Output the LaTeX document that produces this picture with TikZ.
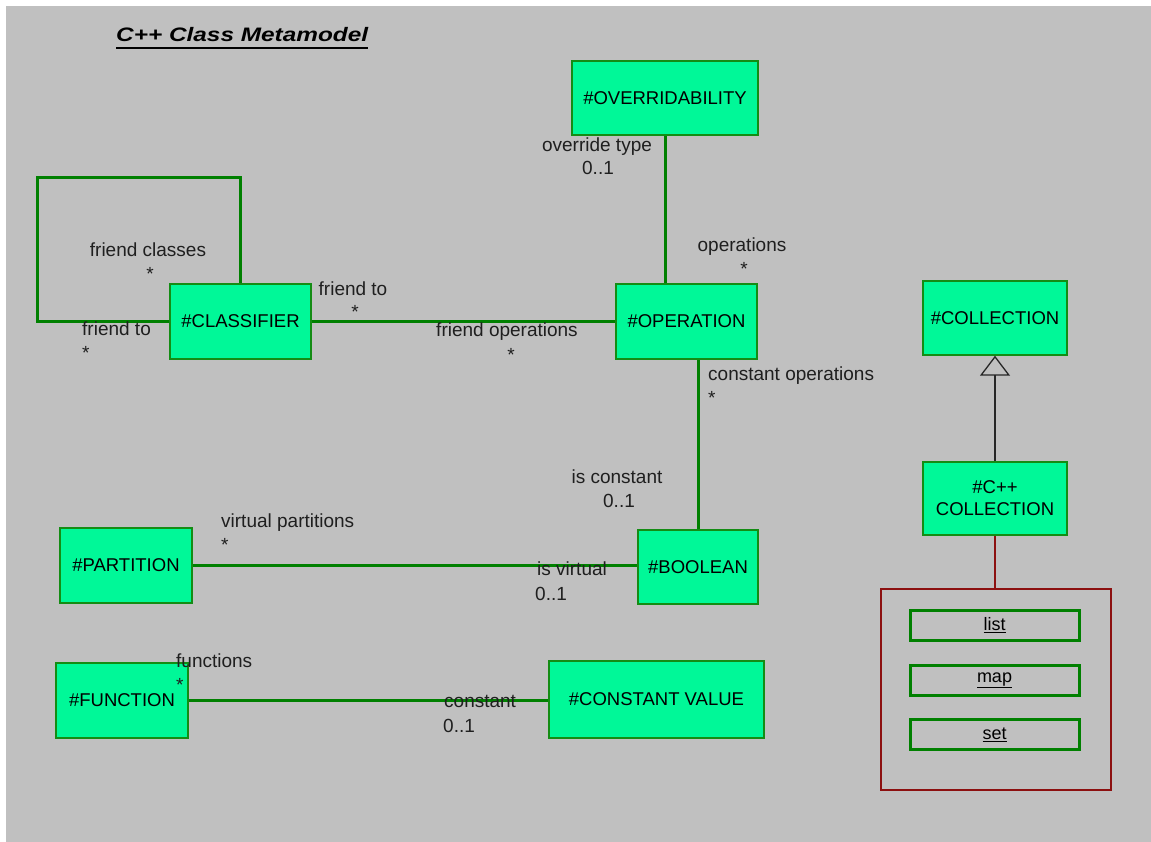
\documentclass[tikz,border=0pt]{standalone}
\usepackage{fontspec}
\setmainfont{Liberation Sans}
\usepackage{graphicx}
\usetikzlibrary{arrows.meta}
\definecolor{bg}{RGB}{192,192,192}
\definecolor{boxfill}{RGB}{0,248,152}
\definecolor{boxline}{RGB}{20,140,20}
\definecolor{assoc}{RGB}{0,128,0}
\definecolor{dred}{RGB}{140,16,16}
\begin{document}
\begin{tikzpicture}[x=1pt,y=-1pt,
  cls/.style={draw=boxline, fill=boxfill, line width=1.4pt, inner sep=0pt,
    font=\fontsize{18.5}{22}\selectfont, align=center},
  assocline/.style={draw=assoc, line width=3pt},
  lbl/.style={font=\fontsize{19}{22}\selectfont, inner sep=0pt, text=black!88},
  itembox/.style={draw=assoc, line width=3pt, minimum width=169pt, minimum height=30pt,
    inner sep=0pt, font=\fontsize{18}{21}\selectfont},
  genline/.style={draw=black!85, line width=1.4pt},
  redline/.style={draw=dred, line width=1.4pt},
  titleline/.style={draw=black, line width=2.6pt}
]
\useasboundingbox (0,0) rectangle (1151,842);
\fill[white] (0,0) rectangle (1151,842);
\fill[bg] (6,6) rectangle (1151,842);

% title
\node[anchor=base west, inner sep=0pt] (title) at (116,42)
  {\scalebox{1.25}[1]{\fontsize{19.5}{23}\selectfont\bfseries\itshape C++ Class Metamodel}};
\draw[titleline] ([yshift=-6pt]title.base west) -- ([yshift=-6pt]title.base east);

% classes
\node[cls, minimum width=186pt, minimum height=74pt] (over) at (665,98) {\#OVERRIDABILITY};
\node[cls, minimum width=141pt, minimum height=75pt] (classifier) at (240.5,321.5) {\#CLASSIFIER};
\node[cls, minimum width=141pt, minimum height=75pt] (operation) at (686.5,321.5) {\#OPERATION};
\node[cls, minimum width=144pt, minimum height=74pt] (collection) at (995,318) {\#COLLECTION};
\node[cls, minimum width=144pt, minimum height=73pt] (cppcoll) at (995,498.5) {\#C++\\COLLECTION};
\node[cls, minimum width=132pt, minimum height=75pt] (partition) at (126,565.5) {\#PARTITION};
\node[cls, minimum width=120pt, minimum height=74pt] (boolean) at (698,567) {\#BOOLEAN};
\node[cls, minimum width=132pt, minimum height=75pt] (function) at (122,700.5) {\#FUNCTION};
\node[cls, minimum width=215pt, minimum height=77pt] (constval) at (656.5,699.5) {\#CONSTANT VALUE};

% enumeration container
\node[draw=dred, line width=1.4pt, minimum width=230pt, minimum height=201pt, inner sep=0pt] (enumbox) at (996,689.5) {};
\node[itembox] (list) at (994.5,625) {\underline{list}};
\node[itembox] (map) at (994.5,680.5) {\underline{map}};
\node[itembox] (set) at (994.5,734.5) {\underline{set}};

% connectors
\coordinate (loopA) at (37,178);
\draw[assocline] (classifier.west) -| (loopA) -| (classifier.north);
\draw[assocline] (classifier.east) -- (operation.west);
\draw[assocline] (over.south) -- (over.south |- operation.north);
\draw[assocline] (boolean.north) -- (boolean.north |- operation.south);
\draw[assocline] (partition.east) -- (partition.east -| boolean.west);
\draw[assocline] (function.east) -- (function.east -| constval.west);
\draw[genline, -{Triangle[open, length=20pt, width=30pt, line width=1.3pt]}] (cppcoll.north) -- (collection.south);
\draw[redline] (cppcoll.south) -- (cppcoll.south |- enumbox.north);

% role names and multiplicities
\node[lbl, anchor=base] (l1) at (597,152) {override type};
\node[lbl, anchor=base] (l1m) at (598,175) {0..1};
\node[lbl, anchor=base] (l2) at (742,252) {operations};
\node[lbl, anchor=base] (l2m) at (744,276) {*};
\node[lbl, anchor=base] (l3) at (148,257) {friend classes};
\node[lbl, anchor=base] (l3m) at (150,280) {*};
\node[lbl, anchor=base] (l4) at (353,295) {friend to};
\node[lbl, anchor=base] (l4m) at (355,319) {*};
\node[lbl, anchor=base west] (l5) at (82,335) {friend to};
\node[lbl, anchor=base west] (l5m) at (82,359) {*};
\node[lbl, anchor=base] (l6) at (507,337) {friend operations};
\node[lbl, anchor=base] (l6m) at (511,361) {*};
\node[lbl, anchor=base west] (l7) at (708,380) {constant operations};
\node[lbl, anchor=base west] (l7m) at (708,404) {*};
\node[lbl, anchor=base] (l8) at (617,483) {is constant};
\node[lbl, anchor=base] (l8m) at (619,507) {0..1};
\node[lbl, anchor=base west] (l9) at (221,527) {virtual partitions};
\node[lbl, anchor=base west] (l9m) at (221,551) {*};
\node[lbl, anchor=base west] (l10) at (537,575) {is virtual};
\node[lbl, anchor=base west] (l10m) at (535,600) {0..1};
\node[lbl, anchor=base west] (l11) at (176,667) {functions};
\node[lbl, anchor=base west] (l11m) at (176,691) {*};
\node[lbl, anchor=base west] (l12) at (444,707) {constant};
\node[lbl, anchor=base west] (l12m) at (443,732) {0..1};
\end{tikzpicture}
\end{document}
